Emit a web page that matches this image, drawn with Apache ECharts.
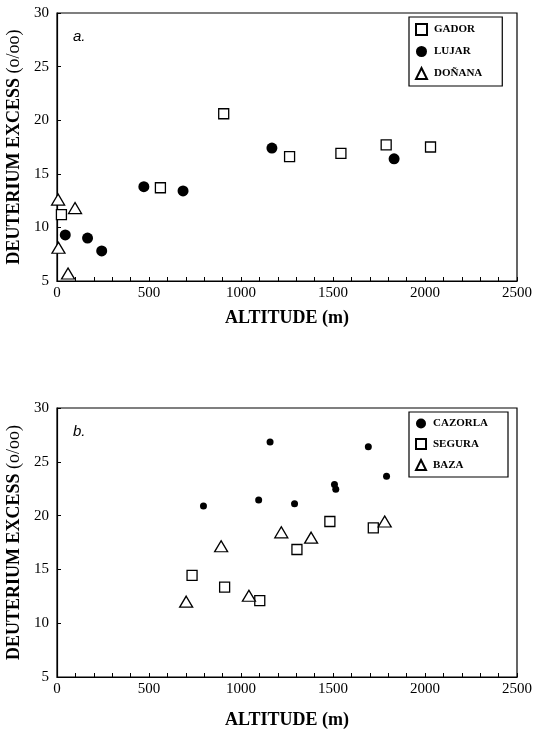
<!DOCTYPE html>
<html>
<head>
<meta charset="utf-8">
<script src="https://cdn.jsdelivr.net/npm/echarts@6/dist/echarts.min.js"></script>
<style>
  html, body { margin: 0; padding: 0; background: #fff; }
  #main { width: 541px; height: 731px; }
</style>
</head>
<body>
<div id="main"></div>
<script>
// panel a: [altitude (m), deuterium excess]
const gador = [[24, 11.2], [562, 13.7], [906, 20.6], [1264, 16.6], [1543, 16.9], [1789, 17.7], [2030, 17.5]];
const lujar = [[45, 9.3], [166, 9.0], [243, 7.8], [472, 13.8], [685, 13.4], [1168, 17.4], [1832, 16.4]];
const donana = [[6, 12.6], [98, 11.8], [8, 8.1], [60, 5.7]];

// panel b
const cazorla = [[796, 20.9], [1096, 21.45], [1158, 26.85], [1291, 21.1], [1508, 22.9], [1515, 22.45], [1692, 26.4], [1791, 23.65]];
const segura = [[734, 14.45], [911, 13.35], [1102, 12.1], [1304, 16.85], [1483, 19.45], [1719, 18.85]];
const baza = [[702, 12.0], [892, 17.15], [1043, 12.55], [1219, 18.45], [1381, 17.95], [1781, 19.45]];

const legendA = ['GADOR', 'LUJAR', 'DOÑANA'];
const legendB = ['CAZORLA', 'SEGURA', 'BAZA'];
const panelLabels = ['a.', 'b.'];

const serif = 'Liberation Serif';
const hollow = { color: '#fff', borderColor: '#000', borderWidth: 1.3, opacity: 1 };
const solid = { color: '#000', opacity: 1 };

function xAxisFor(gridIndex, gap) {
  return {
    type: 'value', gridIndex: gridIndex,
    min: 0, max: 2500, interval: 500,
    name: 'ALTITUDE (m)', nameLocation: 'middle', nameGap: gap,
    nameTextStyle: { fontFamily: serif, fontWeight: 'bold', fontSize: 18, color: '#000' },
    axisLine: { onZero: false, lineStyle: { color: '#000', width: 1.2 } },
    axisTick: { inside: true, length: 4, lineStyle: { color: '#000' } },
    minorTick: { show: true, splitNumber: 5, length: 4, lineStyle: { color: '#000' } },
    axisLabel: { fontFamily: serif, fontSize: 15, color: '#000', margin: 5, formatter: v => String(v) },
    splitLine: { show: false }
  };
}

function yAxisFor(gridIndex) {
  return {
    type: 'value', gridIndex: gridIndex,
    min: 5, max: 30, interval: 5,
    name: '{b|DEUTERIUM EXCESS }{r|(o/oo)}', nameLocation: 'middle', nameGap: 30,
    nameTextStyle: {
      rich: {
        b: { fontFamily: serif, fontWeight: 'bold', fontSize: 18, color: '#000' },
        r: { fontFamily: serif, fontSize: 18, color: '#000' }
      }
    },
    axisLine: { lineStyle: { color: '#000', width: 1.2 } },
    axisTick: { inside: true, length: 4, lineStyle: { color: '#000' } },
    axisLabel: { fontFamily: serif, fontSize: 15, color: '#000', margin: 8 },
    splitLine: { show: false }
  };
}

function legendFor(names, icons, top, size, gap) {
  return {
    orient: 'vertical', left: 409, top: top,
    data: names.map((n, i) => ({ name: n, icon: icons[i] })),
    itemWidth: size, itemHeight: size, itemGap: gap,
    borderColor: '#000', borderWidth: 1.2, borderRadius: 0,
    padding: [6, 20, 6, 6],
    selectedMode: false,
    textStyle: { fontFamily: serif, fontWeight: 'bold', fontSize: 11, color: '#000', padding: [0, 0, 0, 2] }
  };
}

const chart = echarts.init(document.getElementById('main'));
chart.setOption({
  animation: false,
  backgroundColor: '#fff',
  title: panelLabels.map((t, i) => ({
    text: t, left: 68, top: i === 0 ? 24 : 419,
    textStyle: { fontFamily: 'Liberation Sans', fontStyle: 'italic', fontWeight: 'normal', fontSize: 15, color: '#000' }
  })),
  grid: [
    { left: 57, width: 460, top: 13, height: 268, show: true, borderColor: '#000', borderWidth: 1.2, outerBoundsMode: 'none' },
    { left: 57, width: 460, top: 408, height: 269, show: true, borderColor: '#000', borderWidth: 1.2, outerBoundsMode: 'none' }
  ],
  legend: [
    legendFor(legendA, ['rect', 'circle', 'triangle'], 17, 11, 10),
    legendFor(legendB, ['circle', 'rect', 'triangle'], 412, 10, 9)
  ],
  xAxis: [xAxisFor(0, 28), xAxisFor(1, 34)],
  yAxis: [yAxisFor(0), yAxisFor(1)],
  series: [
    { name: 'GADOR', type: 'scatter', xAxisIndex: 0, yAxisIndex: 0, symbol: 'rect', symbolSize: 10, itemStyle: hollow, data: gador },
    { name: 'LUJAR', type: 'scatter', xAxisIndex: 0, yAxisIndex: 0, symbol: 'circle', symbolSize: 11, itemStyle: solid, data: lujar },
    { name: 'DOÑANA', type: 'scatter', xAxisIndex: 0, yAxisIndex: 0, symbol: 'triangle', symbolSize: [13, 11], itemStyle: hollow, data: donana },
    { name: 'CAZORLA', type: 'scatter', xAxisIndex: 1, yAxisIndex: 1, symbol: 'circle', symbolSize: 7, itemStyle: solid, data: cazorla },
    { name: 'SEGURA', type: 'scatter', xAxisIndex: 1, yAxisIndex: 1, symbol: 'rect', symbolSize: 10, itemStyle: hollow, data: segura },
    { name: 'BAZA', type: 'scatter', xAxisIndex: 1, yAxisIndex: 1, symbol: 'triangle', symbolSize: [13, 11], itemStyle: hollow, data: baza }
  ]
});
</script>
</body>
</html>
